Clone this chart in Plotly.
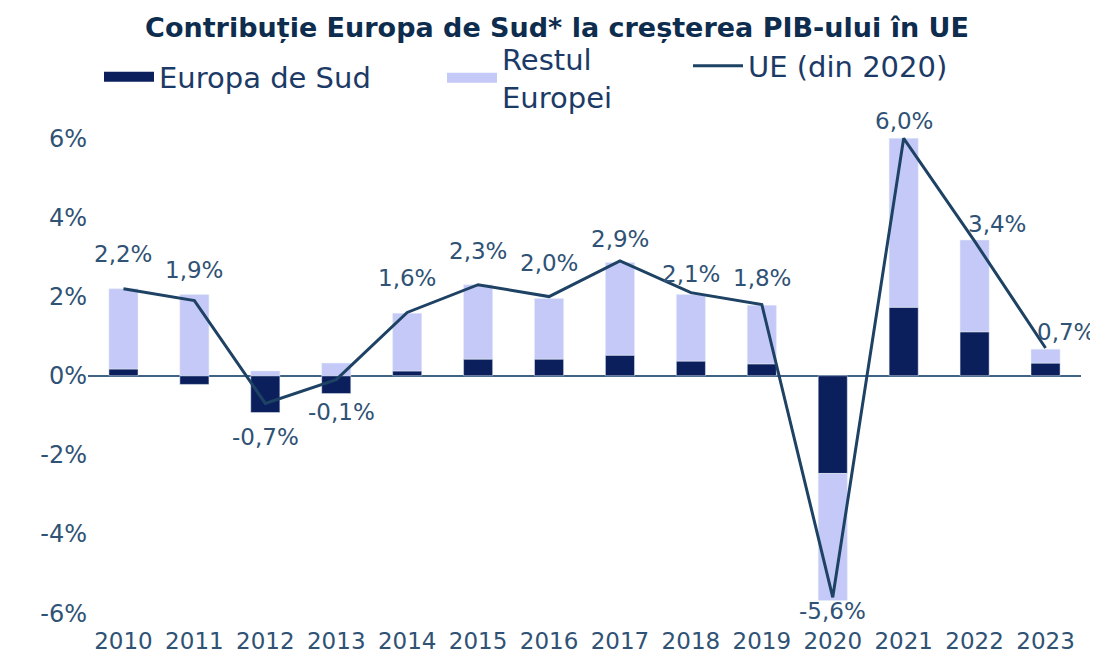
import plotly.graph_objects as go

years = [2010, 2011, 2012, 2013, 2014, 2015, 2016,
         2017, 2018, 2019, 2020, 2021, 2022, 2023]
sud = [0.17, -0.22, -0.93, -0.45, 0.12, 0.42, 0.42, 0.52, 0.37, 0.30, -2.47, 1.73, 1.11, 0.32]
restul = [2.03, 2.05, 0.12, 0.32, 1.46, 1.88, 1.53, 2.34, 1.68, 1.48, -3.21, 4.27, 2.32, 0.35]
ue = [2.2, 1.9, -0.7, -0.1, 1.6, 2.3, 2.0, 2.9, 2.1, 1.8, -5.6, 6.0, 3.4, 0.7]
ue_labels = ["2,2%", "1,9%", "-0,7%", "-0,1%", "1,6%", "2,3%", "2,0%",
             "2,9%", "2,1%", "1,8%", "-5,6%", "6,0%", "3,4%", "0,7%"]
xtick_text = [str(y) for y in years]
ytick_vals = [-6, -4, -2, 0, 2, 4, 6]
ytick_text = ["-6%", "-4%", "-2%", "0%", "2%", "4%", "6%"]

# label offsets (style only)
label_dx = [0, 0, 0, 5, 0, 0, 0, 0, 0, 0, 0, 0, 22, 20]
label_dy = [35, 31, -34, -32, 34, 34, 34, 22, 19, 27, -14, 17, 17, 16]

FONT = "DejaVu Sans"
DARK = "#0b1f5c"
LIGHT = "#c5c9f7"
LINE = "#1e4264"
TXT = "#2f5275"

fig = go.Figure()
fig.add_trace(go.Bar(x=years, y=sud, name="Europa de Sud", marker_color=DARK,
                     width=0.41, showlegend=False))
fig.add_trace(go.Bar(x=years, y=restul, name="Restul Europei", marker_color=LIGHT,
                     width=0.41, showlegend=False))
fig.add_trace(go.Scatter(x=years, y=ue, name="UE (din 2020)", mode="lines",
                         line=dict(color=LINE, width=3), legend="legend3"))
# legend swatches for the bar series (wide rectangles as in the reference)
fig.add_trace(go.Scatter(x=[None], y=[None], mode="lines", name="Europa de Sud",
                         line=dict(color=DARK, width=15), legend="legend"))
fig.add_trace(go.Scatter(x=[None], y=[None], mode="lines", name="Restul<br>Europei",
                         line=dict(color=LIGHT, width=15), legend="legend2"))

for i, (yr, v, t) in enumerate(zip(years, ue, ue_labels)):
    fig.add_annotation(x=yr, y=v, text=t, showarrow=False,
                       xshift=label_dx[i], yshift=label_dy[i],
                       font=dict(family=FONT, size=23, color=TXT))

leg_common = dict(orientation="h", xref="container", yref="container",
                  yanchor="middle", xanchor="left", bgcolor="rgba(0,0,0,0)",
                  font=dict(family=FONT, size=29, color="#1c3a66"), itemwidth=50)
fig.update_layout(
    barmode="relative",
    width=1098, height=656,
    margin=dict(l=80, r=25, t=103, b=39),
    paper_bgcolor="white", plot_bgcolor="white",
    title=dict(text="<b>Contribuție Europa de Sud* la creșterea PIB-ului în UE</b>",
               x=0.5, xanchor="center", y=1 - 20 / 656, yanchor="middle",
               font=dict(family=FONT, size=27, color="#0e2d4e")),
    legend=dict(x=91 / 1098, y=1 - 69 / 656, **leg_common),
    legend2=dict(x=434 / 1098, y=1 - 70 / 656, **leg_common),
    legend3=dict(x=680 / 1098, y=1 - 58 / 656, **leg_common),
    xaxis=dict(range=[2009.5, 2023.5], tickvals=years, ticktext=xtick_text,
               showgrid=False, showline=False, ticks="", zeroline=False,
               automargin=False,
               tickfont=dict(family=FONT, size=23, color=TXT)),
    yaxis=dict(range=[-6.3, 6.4], tickvals=ytick_vals, ticktext=ytick_text,
               showgrid=False, zeroline=True, zerolinecolor="#3f6385", zerolinewidth=2,
               showline=False, ticks="",
               automargin=False,
               tickfont=dict(family=FONT, size=24, color=TXT)),
    showlegend=True,
)

fig.write_html("out.html")
